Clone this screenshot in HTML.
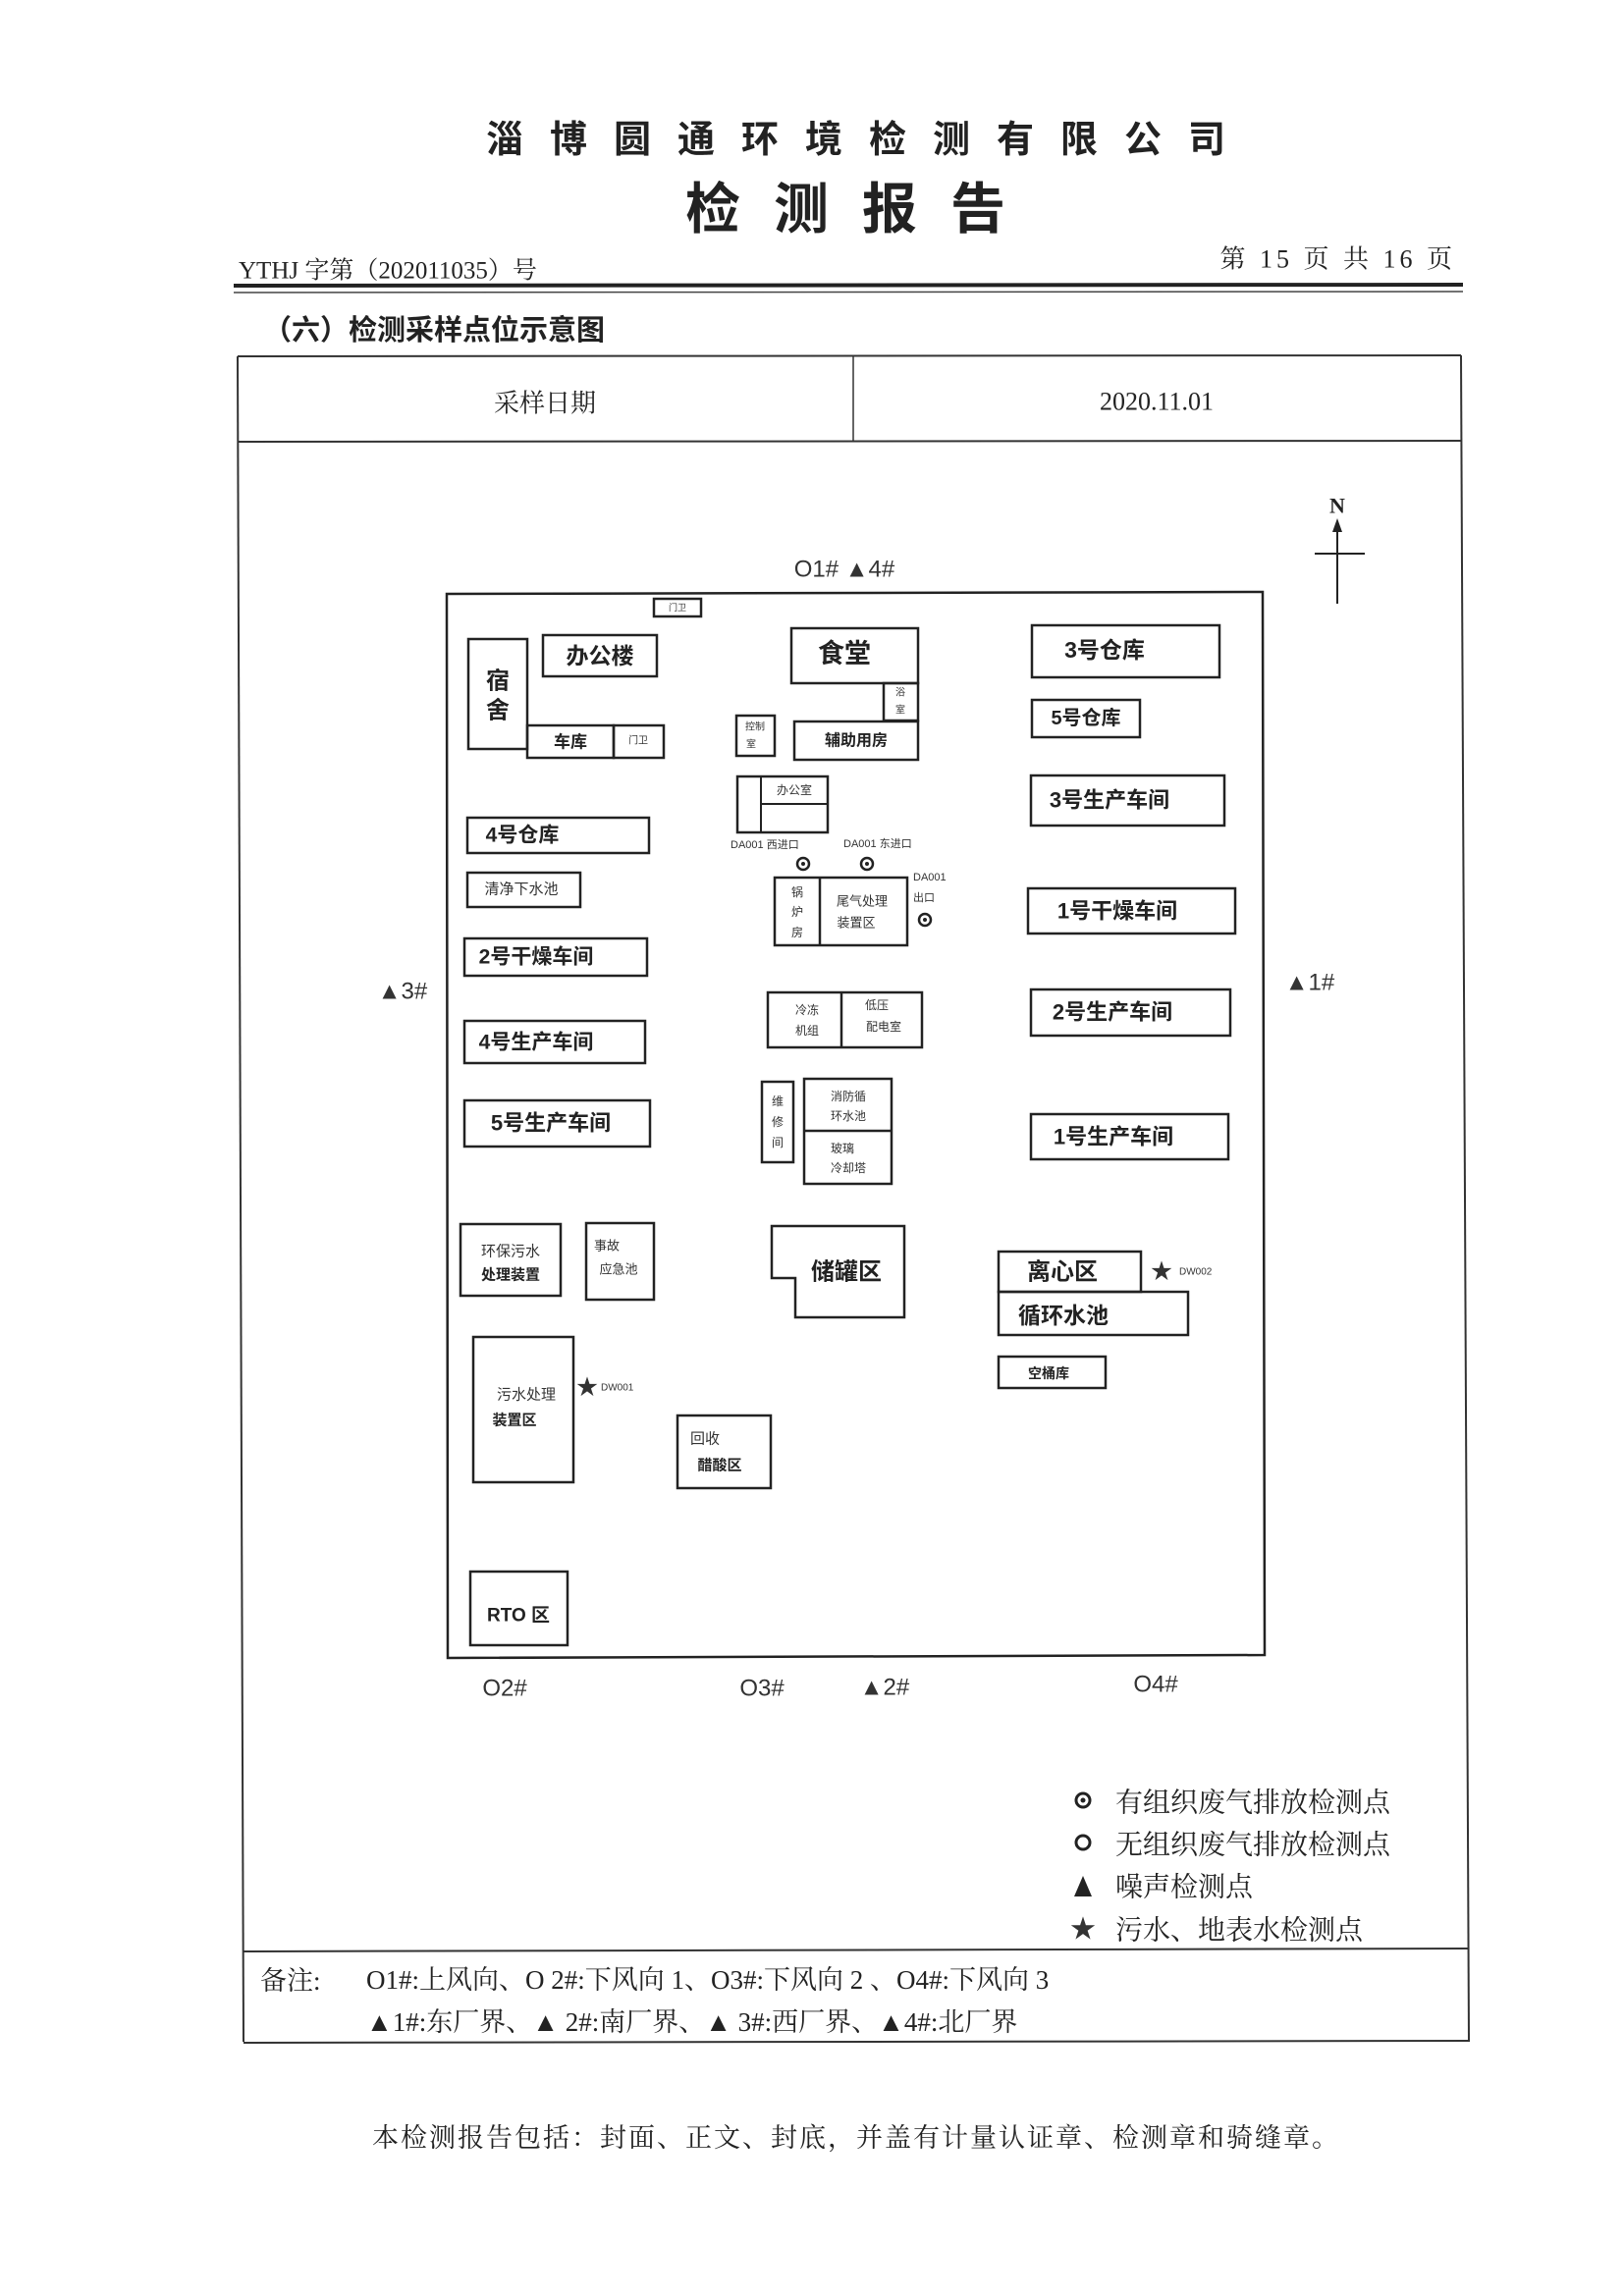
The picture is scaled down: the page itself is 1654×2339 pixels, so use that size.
<!DOCTYPE html>
<html><head><meta charset="utf-8"><style>
html,body{margin:0;padding:0;background:#fff}
svg{display:block}
text{font-family:"Liberation Serif","Noto Serif CJK SC","Noto Sans CJK SC",serif;fill:#222}
.b{font-family:"Liberation Sans","Noto Sans CJK SC",sans-serif;font-weight:bold;fill:#222}
.s{font-family:"Liberation Sans","Noto Sans CJK SC",sans-serif;fill:#333}
rect,polygon{fill:none;stroke:#222;stroke-width:2.5}
</style></head><body>
<svg width="1654" height="2339" viewBox="0 0 1654 2339" xmlns="http://www.w3.org/2000/svg">
<text x="885" y="143" text-anchor="middle" dominant-baseline="central" class="b" font-size="38" letter-spacing="27">淄博圆通环境检测有限公司</text>
<text x="878" y="213" text-anchor="middle" dominant-baseline="central" class="b" font-size="56" letter-spacing="34">检测报告</text>
<text x="243" y="276" dominant-baseline="central" font-size="25">YTHJ 字第（202011035）号</text>
<text x="1483" y="264" text-anchor="end" dominant-baseline="central" font-size="26" letter-spacing="4">第 15 页 共 16 页</text>
<line x1="238" y1="291" x2="1490" y2="290" stroke="#222" stroke-width="4"/>
<line x1="238" y1="298" x2="1490" y2="297" stroke="#444" stroke-width="1.5"/>
<text x="268" y="337" dominant-baseline="central" class="b" font-size="29">（六）检测采样点位示意图</text>
<line x1="242" y1="363" x2="1488" y2="362" stroke="#333" stroke-width="2"/>
<line x1="242" y1="450" x2="1488" y2="449" stroke="#333" stroke-width="2"/>
<line x1="242" y1="363" x2="248" y2="2080" stroke="#333" stroke-width="2"/>
<line x1="1488" y1="362" x2="1496" y2="2080" stroke="#333" stroke-width="2"/>
<line x1="869" y1="363" x2="869" y2="450" stroke="#333" stroke-width="1.5"/>
<line x1="247" y1="1988" x2="1495" y2="1985" stroke="#333" stroke-width="2"/>
<line x1="248" y1="2081" x2="1496" y2="2079" stroke="#333" stroke-width="2"/>
<text x="555" y="411" text-anchor="middle" dominant-baseline="central" font-size="26">采样日期</text>
<text x="1178" y="409" text-anchor="middle" dominant-baseline="central" font-size="26">2020.11.01</text>
<text x="1362" y="515" text-anchor="middle" dominant-baseline="central" class="b" font-size="22" style="font-family:'Liberation Serif',serif">N</text>
<line x1="1362" y1="532" x2="1362" y2="615" stroke="#222" stroke-width="2"/>
<polygon points="1362,528 1357,542 1367,542" style="fill:#222;stroke:none"/>
<line x1="1339" y1="564" x2="1390" y2="564" stroke="#222" stroke-width="2"/>
<polygon points="455,605 1286,603 1288,1686 456,1689" stroke-width="2.5"/>
<text x="860" y="580" text-anchor="middle" dominant-baseline="central" class="s" font-size="24">O1#  ▲4#</text>
<text x="410" y="1010" text-anchor="middle" dominant-baseline="central" class="s" font-size="24">▲3#</text>
<text x="1334" y="1001" text-anchor="middle" dominant-baseline="central" class="s" font-size="24">▲1#</text>
<text x="514" y="1720" text-anchor="middle" dominant-baseline="central" class="s" font-size="24">O2#</text>
<text x="776" y="1720" text-anchor="middle" dominant-baseline="central" class="s" font-size="24">O3#</text>
<text x="901" y="1719" text-anchor="middle" dominant-baseline="central" class="s" font-size="24">▲2#</text>
<text x="1177" y="1716" text-anchor="middle" dominant-baseline="central" class="s" font-size="24">O4#</text>
<rect x="666" y="610" width="48" height="18" stroke-width="2"/><text x="690" y="619" text-anchor="middle" dominant-baseline="central" class="s" font-size="9">门卫</text>
<rect x="477" y="651" width="60" height="112"/><text x="507" y="694" text-anchor="middle" dominant-baseline="central" class="b" font-size="24">宿</text><text x="507" y="724" text-anchor="middle" dominant-baseline="central" class="b" font-size="24">舍</text>
<rect x="553" y="647" width="116" height="42"/><text x="611" y="668" text-anchor="middle" dominant-baseline="central" class="b" font-size="23">办公楼</text>
<rect x="537" y="739" width="88" height="33"/><text x="581" y="756" text-anchor="middle" dominant-baseline="central" class="b" font-size="17">车库</text>
<rect x="625" y="739" width="51" height="33"/><text x="650" y="755" text-anchor="middle" dominant-baseline="central" class="s" font-size="10">门卫</text>
<rect x="806" y="640" width="129" height="56"/><text x="860" y="666" text-anchor="middle" dominant-baseline="central" class="b" font-size="27">食堂</text>
<rect x="900" y="696" width="35" height="38" stroke-width="2"/><text x="917" y="706" text-anchor="middle" dominant-baseline="central" class="s" font-size="10">浴</text><text x="917" y="724" text-anchor="middle" dominant-baseline="central" class="s" font-size="10">室</text>
<rect x="750" y="729" width="39" height="41" stroke-width="2"/><text x="769" y="741" text-anchor="middle" dominant-baseline="central" class="s" font-size="10">控制</text><text x="765" y="759" text-anchor="middle" dominant-baseline="central" class="s" font-size="10">室</text>
<rect x="809" y="735" width="126" height="39"/><text x="872" y="755" text-anchor="middle" dominant-baseline="central" class="b" font-size="16">辅助用房</text>
<rect x="1051" y="637" width="191" height="53"/><text x="1125" y="662" text-anchor="middle" dominant-baseline="central" class="b" font-size="23">3号仓库</text>
<rect x="1051" y="713" width="110" height="38"/><text x="1106" y="732" text-anchor="middle" dominant-baseline="central" class="b" font-size="20">5号仓库</text>
<rect x="751" y="791" width="92" height="57" stroke-width="2"/><line x1="775" y1="791" x2="775" y2="848" stroke="#222" stroke-width="2"/><line x1="775" y1="819" x2="843" y2="819" stroke="#222" stroke-width="2"/><text x="809" y="805" text-anchor="middle" dominant-baseline="central" class="s" font-size="12">办公室</text>
<text x="744" y="861" dominant-baseline="central" class="s" font-size="11">DA001 西进口</text>
<text x="859" y="860" dominant-baseline="central" class="s" font-size="11">DA001 东进口</text>
<text x="930" y="894" dominant-baseline="central" class="s" font-size="11">DA001</text>
<text x="930" y="915" dominant-baseline="central" class="s" font-size="11">出口</text>
<g fill="none" stroke="#222" stroke-width="2.5"><circle cx="818" cy="880" r="6"/><circle cx="883" cy="880" r="6"/><circle cx="942" cy="937" r="6"/></g>
<g fill="#222"><circle cx="818" cy="880" r="2"/><circle cx="883" cy="880" r="2"/><circle cx="942" cy="937" r="2"/></g>
<rect x="789" y="894" width="135" height="69"/><line x1="835" y1="894" x2="835" y2="963" stroke="#222" stroke-width="2.5"/>
<text x="812" y="909" text-anchor="middle" dominant-baseline="central" class="s" font-size="12">锅</text><text x="812" y="929" text-anchor="middle" dominant-baseline="central" class="s" font-size="12">炉</text><text x="812" y="950" text-anchor="middle" dominant-baseline="central" class="s" font-size="12">房</text>
<text x="878" y="918" text-anchor="middle" dominant-baseline="central" class="s" font-size="13">尾气处理</text><text x="872" y="940" text-anchor="middle" dominant-baseline="central" class="s" font-size="13">装置区</text>
<rect x="476" y="833" width="185" height="36"/><text x="532" y="851" text-anchor="middle" dominant-baseline="central" class="b" font-size="21">4号仓库</text>
<rect x="476" y="889" width="115" height="35"/><text x="531" y="906" text-anchor="middle" dominant-baseline="central" class="s" font-size="15">清净下水池</text>
<rect x="473" y="956" width="186" height="38"/><text x="546" y="975" text-anchor="middle" dominant-baseline="central" class="b" font-size="21">2号干燥车间</text>
<rect x="473" y="1040" width="184" height="43"/><text x="546" y="1062" text-anchor="middle" dominant-baseline="central" class="b" font-size="21">4号生产车间</text>
<rect x="473" y="1121" width="189" height="47"/><text x="561" y="1144" text-anchor="middle" dominant-baseline="central" class="b" font-size="22">5号生产车间</text>
<rect x="1050" y="790" width="197" height="51"/><text x="1130" y="815" text-anchor="middle" dominant-baseline="central" class="b" font-size="22">3号生产车间</text>
<rect x="1047" y="905" width="211" height="46"/><text x="1138" y="928" text-anchor="middle" dominant-baseline="central" class="b" font-size="22">1号干燥车间</text>
<rect x="1050" y="1008" width="203" height="47"/><text x="1133" y="1031" text-anchor="middle" dominant-baseline="central" class="b" font-size="22">2号生产车间</text>
<rect x="1050" y="1135" width="201" height="46"/><text x="1134" y="1158" text-anchor="middle" dominant-baseline="central" class="b" font-size="22">1号生产车间</text>
<rect x="782" y="1011" width="157" height="56"/><line x1="857" y1="1011" x2="857" y2="1067" stroke="#222" stroke-width="2.5"/>
<text x="822" y="1029" text-anchor="middle" dominant-baseline="central" class="s" font-size="12">冷冻</text><text x="822" y="1050" text-anchor="middle" dominant-baseline="central" class="s" font-size="12">机组</text>
<text x="893" y="1024" text-anchor="middle" dominant-baseline="central" class="s" font-size="12">低压</text><text x="900" y="1046" text-anchor="middle" dominant-baseline="central" class="s" font-size="12">配电室</text>
<rect x="776" y="1102" width="32" height="82"/><text x="792" y="1122" text-anchor="middle" dominant-baseline="central" class="s" font-size="12">维</text><text x="792" y="1143" text-anchor="middle" dominant-baseline="central" class="s" font-size="12">修</text><text x="792" y="1164" text-anchor="middle" dominant-baseline="central" class="s" font-size="12">间</text>
<rect x="819" y="1099" width="89" height="107"/><line x1="819" y1="1152" x2="908" y2="1152" stroke="#222" stroke-width="2.5"/>
<text x="864" y="1117" text-anchor="middle" dominant-baseline="central" class="s" font-size="12">消防循</text><text x="864" y="1137" text-anchor="middle" dominant-baseline="central" class="s" font-size="12">环水池</text>
<text x="858" y="1170" text-anchor="middle" dominant-baseline="central" class="s" font-size="12">玻璃</text><text x="864" y="1190" text-anchor="middle" dominant-baseline="central" class="s" font-size="12">冷却塔</text>
<rect x="469" y="1247" width="102" height="73"/><text x="520" y="1275" text-anchor="middle" dominant-baseline="central" class="s" font-size="15">环保污水</text><text x="520" y="1299" text-anchor="middle" dominant-baseline="central" class="b" font-size="15">处理装置</text>
<rect x="597" y="1246" width="69" height="78"/><text x="618" y="1269" text-anchor="middle" dominant-baseline="central" class="s" font-size="13">事故</text><text x="630" y="1293" text-anchor="middle" dominant-baseline="central" class="s" font-size="13">应急池</text>
<polygon points="786,1249 921,1249 921,1342 810,1342 810,1302 786,1302"/><text x="862" y="1296" text-anchor="middle" dominant-baseline="central" class="b" font-size="24">储罐区</text>
<rect x="1017" y="1275" width="145" height="41"/><text x="1082" y="1296" text-anchor="middle" dominant-baseline="central" class="b" font-size="24">离心区</text>
<rect x="1017" y="1316" width="193" height="44"/><text x="1083" y="1340" text-anchor="middle" dominant-baseline="central" class="b" font-size="23">循环水池</text>
<text x="1183" y="1295" text-anchor="middle" dominant-baseline="central" class="s" font-size="22">★</text><text x="1201" y="1296" dominant-baseline="central" class="s" font-size="10">DW002</text>
<rect x="1017" y="1382" width="109" height="32"/><text x="1068" y="1399" text-anchor="middle" dominant-baseline="central" class="b" font-size="14">空桶库</text>
<rect x="482" y="1362" width="102" height="148"/><text x="536" y="1421" text-anchor="middle" dominant-baseline="central" class="s" font-size="15">污水处理</text><text x="524" y="1447" text-anchor="middle" dominant-baseline="central" class="b" font-size="15">装置区</text>
<text x="598" y="1413" text-anchor="middle" dominant-baseline="central" class="s" font-size="22">★</text><text x="612" y="1414" dominant-baseline="central" class="s" font-size="10">DW001</text>
<rect x="690" y="1442" width="95" height="74"/><text x="718" y="1466" text-anchor="middle" dominant-baseline="central" class="s" font-size="15">回收</text><text x="733" y="1493" text-anchor="middle" dominant-baseline="central" class="b" font-size="15">醋酸区</text>
<rect x="479" y="1601" width="99" height="75"/><text x="528" y="1646" text-anchor="middle" dominant-baseline="central" class="b" font-size="19">RTO 区</text>
<circle cx="1103" cy="1834" r="7" fill="none" stroke="#222" stroke-width="3"/><circle cx="1103" cy="1834" r="2.5" fill="#222"/>
<circle cx="1103" cy="1877" r="7" fill="none" stroke="#222" stroke-width="3"/>
<polygon points="1103,1911 1094,1932 1112,1932" style="fill:#222;stroke:none"/>
<text x="1103" y="1965" text-anchor="middle" dominant-baseline="central" class="s" font-size="26">★</text>
<text x="1136" y="1837" dominant-baseline="central" font-size="28">有组织废气排放检测点</text>
<text x="1136" y="1880" dominant-baseline="central" font-size="28">无组织废气排放检测点</text>
<text x="1136" y="1923" dominant-baseline="central" font-size="28">噪声检测点</text>
<text x="1136" y="1967" dominant-baseline="central" font-size="28">污水、地表水检测点</text>
<text x="265" y="2018" dominant-baseline="central" font-size="27">备注:</text>
<text x="373" y="2017" dominant-baseline="central" font-size="27">O1#:上风向、O 2#:下风向 1、O3#:下风向 2 、O4#:下风向 3</text>
<text x="373" y="2060" dominant-baseline="central" font-size="27">▲1#:东厂界、▲ 2#:南厂界、▲ 3#:西厂界、▲4#:北厂界</text>
<text x="379" y="2178" dominant-baseline="central" font-size="27" letter-spacing="2">本检测报告包括：封面、正文、封底，并盖有计量认证章、检测章和骑缝章。</text>
</svg>
</body></html>
